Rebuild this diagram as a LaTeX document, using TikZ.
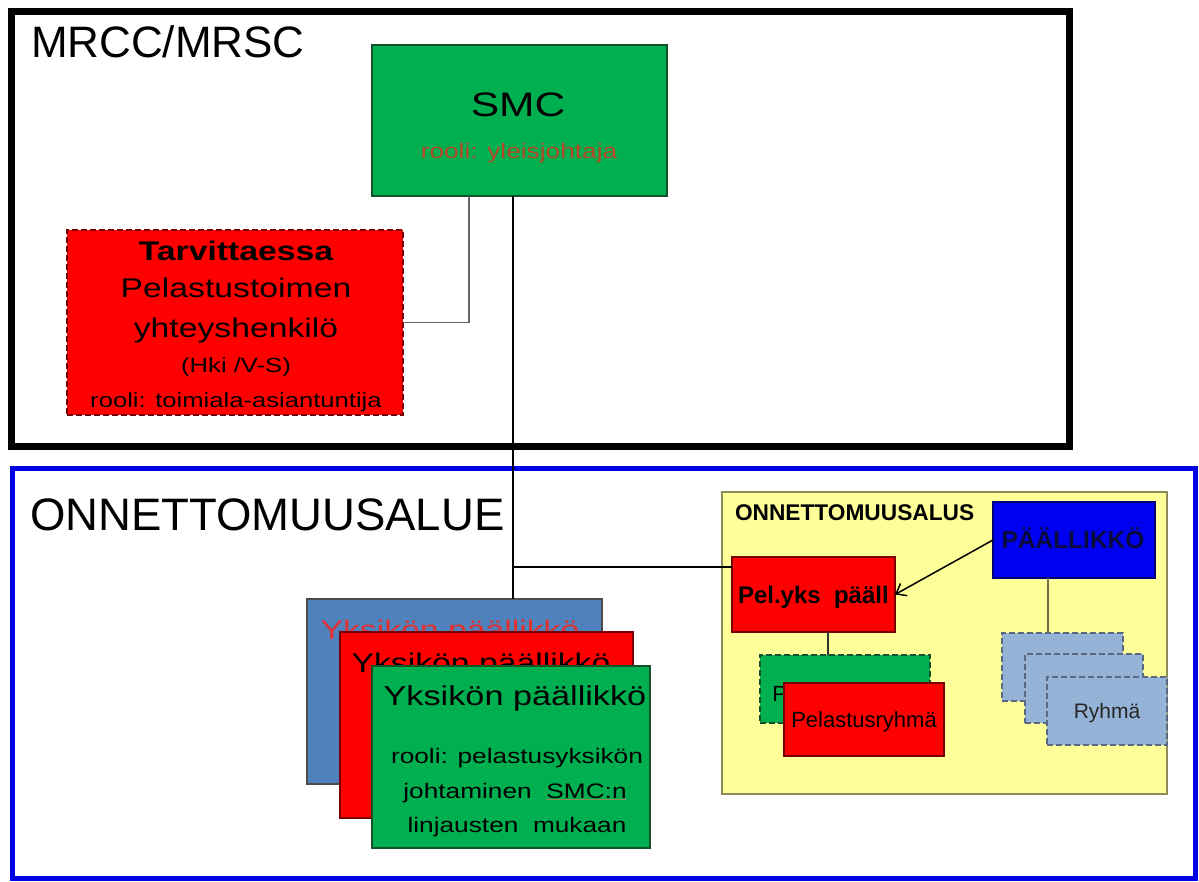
\documentclass[tikz,border=0pt]{standalone}
\usepackage{fontspec}
\setmainfont{Liberation Sans}
\newfontfamily\wf[FakeStretch=1.25]{Liberation Sans}
\usetikzlibrary{arrows.meta}
\definecolor{smcgreen}{RGB}{0,176,80}
\definecolor{pred}{RGB}{255,0,0}
\definecolor{pblue}{RGB}{0,0,240}
\definecolor{steel}{RGB}{79,129,189}
\definecolor{lblue}{RGB}{149,179,215}
\definecolor{lyellow}{RGB}{255,255,153}
\definecolor{frameblue}{RGB}{0,0,230}
\definecolor{brownred}{RGB}{180,72,40}
\definecolor{txtred}{RGB}{224,50,50}
\definecolor{darkred}{RGB}{120,0,0}
\definecolor{dgreen}{RGB}{20,80,40}
\definecolor{navytxt}{RGB}{10,10,60}
\definecolor{olive}{RGB}{140,140,90}
\definecolor{ryborder}{RGB}{90,105,130}
\newcommand{\fsz}[1]{\fontsize{#1}{#1}\selectfont}
\begin{document}
\begin{tikzpicture}[x=1pt,y=-1pt,
  box/.style={draw, anchor=north west, inner sep=0pt, outer sep=0pt, line width=1.2pt},
  dbox/.style={box, dash pattern=on 6pt off 3pt},
  frame/.style={draw, anchor=north west, inner sep=0pt, outer sep=0pt},
  lbl/.style={anchor=base, inner sep=0pt, outer sep=0pt},
  conn/.style={line width=1.5pt},
  arr/.style={line width=1.5pt, -{Straight Barb[length=9pt,width=14pt,line width=1.5pt]}}]
\useasboundingbox (0,0) rectangle (1199,881);
\fill[white] (0,0) rectangle (1199,881);

% frames
\node[frame, line width=7pt, minimum width=1058pt, minimum height=435pt] (mrcc) at (11,11) {};
\node[frame, draw=frameblue, line width=5pt, minimum width=1183pt, minimum height=410pt] (alue) at (12,468) {};
\node[lbl, anchor=base west, font=\fsz{44}] (mrcct) at (31,57) {MRCC/MRSC};
\node[lbl, anchor=base west, font=\fsz{45.5}] (aluet) at (30,530) {ONNETTOMUUSALUE};

% yellow ship area
\node[frame, draw=olive, fill=lyellow, line width=2pt, minimum width=445pt, minimum height=302pt] (alus) at (722,492) {};
\node[lbl, anchor=base west, font=\bfseries\fsz{22.7}] (alust) at (735,520) {ONNETTOMUUSALUS};

% helper coordinates for connector positions
\coordinate (vx) at (513,0);
\coordinate (hy) at (0,567);
\coordinate (kx) at (469,0);
\coordinate (px) at (828,0);
\coordinate (rx) at (1048,0);

% SMC and liaison
\node[box, draw=dgreen, fill=smcgreen, minimum width=295pt, minimum height=151pt] (smc) at (372,45) {};
\node[lbl, font=\wf\fsz{34}] (smct) at (518,116) {SMC};
\node[lbl, font=\wf\fsz{21}, text=brownred] (smcr) at (519,158) {rooli: yleisjohtaja};

\node[dbox, draw=darkred, fill=pred, minimum width=336pt, minimum height=185pt] (tarv) at (67,230) {};
\node[lbl, font=\wf\bfseries\fsz{27}] (tarv1) at (236,260) {Tarvittaessa};
\node[lbl, font=\wf\fsz{27}] (tarv2) at (236,297) {Pelastustoimen};
\node[lbl, font=\wf\fsz{27}] (tarv3) at (236,337) {yhteyshenkilö};
\node[lbl, font=\wf\fsz{20.5}] (tarv4) at (236,372) {(Hki /V-S)};
\node[lbl, font=\wf\fsz{20.5}] (tarv5) at (236,407) {rooli: toimiala-asiantuntija};

% unit stack
\node[box, draw=black!70, fill=steel, minimum width=295pt, minimum height=185pt] (ua) at (307,599) {};
\node[lbl, font=\wf\fsz{27}, text=txtred] (uat) at (450,639) {Yksikön päällikkö};
\node[box, draw=darkred, fill=pred, minimum width=293pt, minimum height=186pt] (ub) at (340,632) {};
\node[lbl, font=\wf\fsz{27}] (ubt) at (481,672) {Yksikön päällikkö};
\node[box, draw=dgreen, fill=smcgreen, minimum width=278pt, minimum height=182pt] (uc) at (372,666) {};
\node[lbl, font=\wf\fsz{27.4}] (uct1) at (515,705) {Yksikön päällikkö};
\node[lbl, font=\wf\fsz{21}] (uct2) at (517,763) {rooli: pelastusyksikön};
\node[lbl, font=\wf\fsz{21}] (uct3) at (515,798) {johtaminen\ \ \textcolor{olive}{\underline{\textcolor{black}{SMC:n}}}};
\node[lbl, font=\wf\fsz{21}] (uct4) at (517,832) {linjausten\ \ mukaan};

% ship contents
\node[box, draw=darkred, fill=pred, minimum width=163pt, minimum height=75pt] (pelyks) at (732,557) {};
\node[lbl, anchor=base west, font=\bfseries\fsz{24}] (pelykst) at (738,603) {Pel.yks\ \ pääll};
\node[box, draw=pblue!50!black, fill=pblue, minimum width=162pt, minimum height=76pt] (paal) at (993,502) {};
\node[lbl, font=\bfseries\fsz{24.5}, text=navytxt] (paalt) at (1073,548) {PÄÄLLIKKÖ};

\node[dbox, draw=dgreen, fill=smcgreen, minimum width=170pt, minimum height=68pt] (pg) at (760,655) {};
\node[lbl, font=\fsz{22}] (pgt) at (845,701) {Pelastusryhmä};
\node[box, draw=darkred, fill=pred, minimum width=160pt, minimum height=73pt] (pr) at (784,683) {};
\node[lbl, font=\fsz{22}] (prt) at (864,727) {Pelastusryhmä};

\node[dbox, draw=ryborder, fill=lblue, minimum width=121pt, minimum height=68pt] (r1) at (1002,633) {};
\node[dbox, draw=ryborder, fill=lblue, minimum width=118pt, minimum height=69pt] (r2) at (1025,654) {};
\node[dbox, draw=ryborder, fill=lblue, minimum width=120pt, minimum height=68pt] (r3) at (1047,677) {};
\node[lbl, font=\fsz{21}, text=black!85] (r3t) at (1107,718) {Ryhmä};

% connectors
\draw[conn] (smc.south -| vx) -- (ua.north -| vx);
\draw[conn] (vx |- hy) -- (pelyks.west |- hy);
\draw[conn, draw=gray!80!black] (smc.south -| kx) |- (tarv.east);
\draw[line width=1.2pt, draw=black!80] (pelyks.south -| px) -- (pg.north -| px);
\draw[line width=1.2pt, draw=olive!80!black] (paal.south -| rx) -- (r1.north -| rx);
\draw[arr] (paal.west) -- (pelyks.east);
\end{tikzpicture}
\end{document}
